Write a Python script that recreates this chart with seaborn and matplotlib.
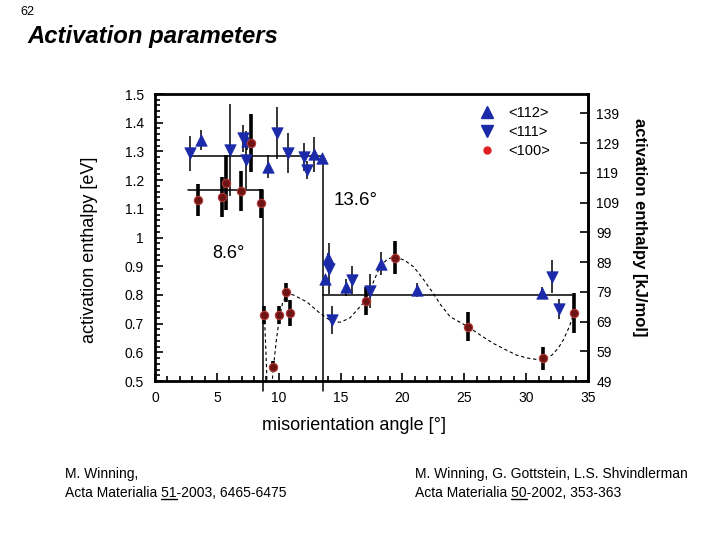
import matplotlib
matplotlib.use("Agg")
import matplotlib.pyplot as plt
from matplotlib.lines import Line2D
from matplotlib.ticker import MultipleLocator, FuncFormatter
import seaborn as sns

# values
ang_112 = [3.72, 7.4, 9.1, 12.88, 13.52, 14.0, 13.74, 15.42, 18.27, 21.15, 31.26]
ea_112 = [1.34, 1.335, 1.247, 1.29, 1.278, 0.927, 0.854, 0.826, 0.908, 0.817, 0.808]
err_112 = [0.035, 0.03, 0.04, 0.06, 0.0, 0.02, 0.0, 0.03, 0.04, 0.025, 0.02]

ang_111 = [2.83, 6.06, 7.14, 7.36, 9.84, 10.73, 12.05, 12.26, 14.1, 14.33, 15.9, 17.38, 32.1, 32.66]
ea_111 = [1.293, 1.305, 1.346, 1.27, 1.365, 1.295, 1.281, 1.235, 0.892, 0.713, 0.852, 0.813, 0.863, 0.751]
err_111 = [0.06, 0.16, 0.047, 0.1, 0.09, 0.07, 0.05, 0.03, 0.09, 0.05, 0.05, 0.06, 0.058, 0.035]

ang_100 = [3.45, 5.44, 5.77, 6.93, 7.79, 8.57, 8.84, 9.53, 10.0, 10.59, 10.94, 17.03, 19.38, 25.28, 31.34, 33.87]
ea_100 = [1.131, 1.142, 1.191, 1.161, 1.33, 1.119, 0.73, 0.55, 0.73, 0.809, 0.738, 0.779, 0.93, 0.689, 0.579, 0.738]
err_100 = [0.057, 0.07, 0.096, 0.07, 0.1, 0.05, 0.03, 0.02, 0.033, 0.033, 0.045, 0.05, 0.058, 0.05, 0.04, 0.07]

# dashed guide curve through the <100> points
curve_x = [8.84, 8.95, 9.05, 9.15, 9.3, 9.45, 9.6, 9.8, 10.05, 10.3, 10.64, 11.18, 12.26, 13.34,
           14.3, 15.0, 15.76, 16.57, 17.0, 17.6, 18.2, 18.8, 19.4, 20.2, 20.9, 21.6, 22.4, 23.1,
           23.85, 25.3, 26.3, 27.35, 28.3, 29.24, 30.1, 30.86, 31.5, 32.07, 32.6, 33.0, 33.5, 33.87]
curve_y = [0.73, 0.62, 0.50, 0.46, 0.45, 0.49, 0.56, 0.64, 0.72, 0.77, 0.805, 0.80, 0.776, 0.736,
           0.707, 0.705, 0.72, 0.759, 0.78, 0.84, 0.90, 0.925, 0.933, 0.92, 0.898, 0.86, 0.811, 0.765,
           0.724, 0.689, 0.66, 0.631, 0.61, 0.59, 0.58, 0.575, 0.577, 0.59, 0.615, 0.643, 0.69, 0.738]

# step lines marking the transition angles
step_136_x = [2.88, 13.6, 13.6]
step_136_y = [1.284, 1.284, 0.465]
level_high_x = [13.6, 33.7]
level_high_y = [0.80, 0.80]
step_86_x = [2.69, 8.76, 8.76]
step_86_y = [1.166, 1.166, 0.465]

blue = "#1a2aa8"
dark_red = "#6e1414"

sns.set_style("ticks")
plt.rcParams['font.family'] = ['Liberation Sans', 'DejaVu Sans']
plt.rcParams['text.color'] = 'black'
plt.rcParams['axes.labelcolor'] = 'black'

fig = plt.figure(figsize=(7.2, 5.4), dpi=100)
ax = fig.add_axes([0.2153, 0.2944, 0.6014, 0.5315])

# reference lines
ax.plot(step_136_x, step_136_y, color="black", lw=1.1, clip_on=False, zorder=1)
ax.plot(level_high_x, level_high_y, color="black", lw=1.1, zorder=1)
ax.plot(step_86_x, step_86_y, color="black", lw=1.1, clip_on=False, zorder=1)

sns.lineplot(x=curve_x, y=curve_y, sort=False, estimator=None, ax=ax, color="black",
             lw=0.8, linestyle=(0, (3, 2.5)), zorder=1)

# error bars
ax.errorbar(ang_112, ea_112, yerr=err_112, fmt="none", ecolor="black", elinewidth=1.1, capsize=0, zorder=2)
ax.errorbar(ang_111, ea_111, yerr=err_111, fmt="none", ecolor="black", elinewidth=1.1, capsize=0, zorder=2)
ax.errorbar(ang_100, ea_100, yerr=err_100, fmt="none", ecolor="black", elinewidth=2.6, capsize=0, zorder=2)

# markers
sns.scatterplot(x=ang_112, y=ea_112, marker="^", s=68, color=blue, edgecolor=blue, linewidth=0.5, ax=ax, zorder=4)
sns.scatterplot(x=ang_111, y=ea_111, marker="v", s=68, color=blue, edgecolor=blue, linewidth=0.5, ax=ax, zorder=4)
sns.scatterplot(x=ang_100, y=ea_100, marker="o", s=36, color=dark_red, edgecolor="#b43a3a", linewidth=0.8, ax=ax, zorder=4)

ax.set_xlim(0, 35)
ax.set_ylim(0.5, 1.5)
ax.xaxis.set_major_locator(MultipleLocator(5))
ax.xaxis.set_minor_locator(MultipleLocator(1))
ax.yaxis.set_major_locator(MultipleLocator(0.1))
ax.yaxis.set_minor_locator(MultipleLocator(0.02))
ax.yaxis.set_major_formatter(FuncFormatter(lambda v, p: f"{v:g}"))
ax.tick_params(which="both", direction="in", top=False, right=False, width=1.2, labelsize=10, colors="black")
ax.tick_params(which="major", length=6)
ax.tick_params(which="minor", length=3.5)
ax.tick_params(axis="x", pad=7)
ax.tick_params(axis="y", pad=8)
for sp in ax.spines.values():
    sp.set_linewidth(2)
    sp.set_color("black")

sec = ax.secondary_yaxis("right", functions=(lambda e: 49 + (e - 0.5) * 96.5,
                                             lambda k: 0.5 + (k - 49) / 96.5))
sec.set_yticks(list(range(49, 140, 10)))
sec.tick_params(direction="in", length=6, width=1.2, labelsize=10, pad=6, colors="black")
sec.spines["right"].set_linewidth(2)
fig.text(640 / 720, 1 - 227 / 540, "activation enthalpy [kJ/mol]", rotation=270, fontsize=12,
         fontweight="bold", ha="center", va="center")

fig.text(90 / 720, 1 - 250 / 540, "activation enthalpy [eV]", rotation=90, fontsize=13,
         ha="center", va="center")
fig.text(354 / 720, 1 - 425 / 540, "misorientation angle [°]", fontsize=13, ha="center", va="center")

ax.text(16.2, 1.13, "13.6°", ha="center", va="center", fontsize=13.5)
ax.text(5.9, 0.943, "8.6°", ha="center", va="center", fontsize=13)

handles = [
    Line2D([], [], ls="none", marker="^", ms=8.5, color=blue),
    Line2D([], [], ls="none", marker="v", ms=8.5, color=blue),
    Line2D([], [], ls="none", marker="o", ms=5, color="#e02020"),
]
ax.legend(handles, ["<112>", "<111>", "<100>"], loc="upper left", bbox_to_anchor=(0.717, 1.004),
          frameon=False, fontsize=10.5, handletextpad=0.8, labelspacing=0.35, handlelength=1.2)

fig.text(20 / 720, 1 - 12 / 540, "62", fontsize=9, va="center")
fig.text(27 / 720, 1 - 36 / 540, "Activation parameters", fontsize=17.2, fontweight="bold",
         style="italic", va="center")


def ref_line(x_px, y_px, pre, mid, post):
    kw = dict(fontsize=10, va="baseline", ha="left")
    fig.text(x_px / 720, 1 - y_px / 540, pre + mid + post, **kw)
    r = fig.canvas.get_renderer()
    t1 = fig.text(0, 0, pre + mid, **kw)
    t2 = fig.text(0, 0, mid, **kw)
    w_pm = t1.get_window_extent(r).width
    w_m = t2.get_window_extent(r).width
    t1.remove()
    t2.remove()
    x0 = x_px + w_pm - w_m
    x1 = x_px + w_pm
    uy = 1 - (y_px + 2) / 540
    fig.add_artist(Line2D([x0 / 720, x1 / 720], [uy, uy], color="black", lw=1))


fig.text(65 / 720, 1 - 478 / 540, "M. Winning,", fontsize=10, va="baseline")
ref_line(65, 497, "Acta Materialia ", "51", "-2003, 6465-6475")
fig.text(415 / 720, 1 - 478 / 540, "M. Winning, G. Gottstein, L.S. Shvindlerman", fontsize=10, va="baseline")
ref_line(415, 497, "Acta Materialia ", "50", "-2002, 353-363")

fig.savefig("out.png", dpi=100)
